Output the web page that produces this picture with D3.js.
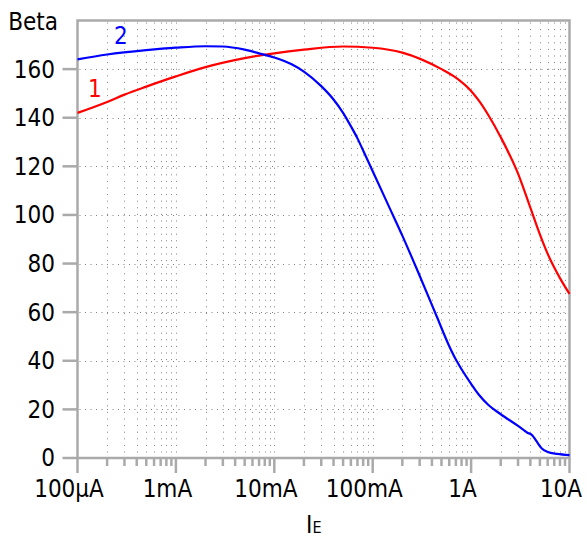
<!DOCTYPE html>
<html>
<head>
<meta charset="utf-8">
<script src="https://cdnjs.cloudflare.com/ajax/libs/d3/7.8.5/d3.min.js"></script>
<style>
    body { margin: 0; background: #fff; }
    svg text { font-family: "DejaVu Sans Condensed", "Liberation Sans", sans-serif; font-size: 24px; fill: #000; }
</style>
</head>
<body>
<div id="chart"></div>
<script>
// x axis labels (decades of emitter current)
var xTicks = [1e-4, 1e-3, 1e-2, 1e-1, 1, 10];
var xTickLabels = ["100µA", "1mA", "10mA", "100mA", "1A", "10A"];
var yTicks = [0, 20, 40, 60, 80, 100, 120, 140, 160];

// curve 1 (red): emitter current [A] and beta
var ie1 = [1e-4, 2e-4, 3e-4, 5e-4, 1e-3, 2e-3, 5e-3, 1e-2, 2e-2, 5e-2, 0.1, 0.2, 0.5, 0.7, 1, 1.2, 1.5, 2, 3, 4, 5, 6, 8, 10];
var beta1 = [142, 146.5, 149.5, 152.8, 157, 160.8, 164.5, 166.5, 168, 169.3, 168.8, 166.8, 160, 156.5, 151, 147, 141, 132, 117, 103, 92, 84, 74, 67.5];

// curve 2 (blue)
var ie2 = [1e-4, 2e-4, 5e-4, 1e-3, 2e-3, 3e-3, 5e-3, 7e-3, 1e-2, 1.5e-2, 2e-2, 3e-2, 4e-2, 5e-2, 6e-2, 7e-2, 8e-2, 0.1, 0.15, 0.2, 0.3, 0.45, 0.6, 0.7, 0.8, 1, 1.2, 1.5, 2, 3, 3.7, 4.2, 4.6, 5.2, 6, 7.5, 10];
var beta2 = [164, 166, 167.8, 168.8, 169.4, 169.3, 168, 166.5, 164.8, 162, 159, 153, 147.5, 142, 136.5, 131.5, 126.5, 118, 102.5, 91.5, 75, 58, 46, 40.5, 36.5, 30.5, 26, 21.8, 18, 13.2, 10.5, 9.3, 7, 4, 2.5, 1.7, 1.2];

var width = 587, height = 540;
var plotLeft = 77.5, plotRight = 569.5, plotTop = 20.5, plotBottom = 458;

var svg = d3.select("#chart")
    .append("svg")
    .attr("width", width)
    .attr("height", height);

var x = d3.scaleLog().domain([1e-4, 10]).range([plotLeft, plotRight]);
var y = d3.scaleLinear().domain([0, 180]).range([plotBottom, plotTop]);

// minor positions 2..9 inside every decade
var minor = [];
xTicks.slice(0, -1).forEach(function(d) {
    for (var k = 2; k <= 9; k++) minor.push(d * k);
});

// dotted grid
svg.append("g")
    .selectAll("line")
    .data(minor.concat(xTicks.slice(1, -1)))
    .enter()
    .append("line")
    .attr("x1", function(d) { return Math.round(x(d)) + 0.5; })
    .attr("x2", function(d) { return Math.round(x(d)) + 0.5; })
    .attr("y1", plotTop + 2)
    .attr("y2", plotBottom - 1)
    .style("stroke", "#808080")
    .style("stroke-width", 1)
    .style("stroke-dasharray", "1,5.6");

svg.append("g")
    .selectAll("line")
    .data(yTicks.slice(1))
    .enter()
    .append("line")
    .attr("x1", plotLeft + 2)
    .attr("x2", plotRight - 1)
    .attr("y1", function(d) { return Math.round(y(d)) + 0.5; })
    .attr("y2", function(d) { return Math.round(y(d)) + 0.5; })
    .style("stroke", "#808080")
    .style("stroke-width", 1)
    .style("stroke-dasharray", "1,4.5");

// frame
svg.append("rect")
    .attr("x", plotLeft)
    .attr("y", plotTop)
    .attr("width", plotRight - plotLeft)
    .attr("height", plotBottom - plotTop)
    .style("fill", "none")
    .style("stroke", "#aaaaaa")
    .style("stroke-width", 2.5);

// y axis ticks + labels
var yAxis = svg.append("g");
yAxis.selectAll("line")
    .data(yTicks)
    .enter()
    .append("line")
    .attr("x1", plotLeft - 15)
    .attr("x2", plotLeft)
    .attr("y1", function(d) { return y(d); })
    .attr("y2", function(d) { return y(d); })
    .style("stroke", "#aaaaaa")
    .style("stroke-width", 2.5);
yAxis.selectAll("text")
    .data(yTicks)
    .enter()
    .append("text")
    .attr("x", 55)
    .attr("y", function(d) { return y(d); })
    .attr("dy", "0.35em")
    .attr("text-anchor", "end")
    .text(function(d) { return d; });

svg.append("text")
    .attr("x", 58)
    .attr("y", y(180) + 1)
    .attr("dy", "0.35em")
    .attr("text-anchor", "end")
    .text("Beta");

// x axis ticks: long at decades, short at minors
var xAxis = svg.append("g");
xAxis.selectAll("line.major")
    .data(xTicks)
    .enter()
    .append("line")
    .attr("class", "major")
    .attr("x1", function(d) { return x(d); })
    .attr("x2", function(d) { return x(d); })
    .attr("y1", plotBottom)
    .attr("y2", plotBottom + 15)
    .style("stroke", "#aaaaaa")
    .style("stroke-width", 2.5);
xAxis.selectAll("line.minor")
    .data(minor)
    .enter()
    .append("line")
    .attr("class", "minor")
    .attr("x1", function(d) { return x(d); })
    .attr("x2", function(d) { return x(d); })
    .attr("y1", plotBottom)
    .attr("y2", plotBottom + 8)
    .style("stroke", "#aaaaaa")
    .style("stroke-width", 2.5);
xAxis.selectAll("text")
    .data(xTicks)
    .enter()
    .append("text")
    .attr("x", function(d) { return x(d) - 8.5; })
    .attr("y", 497)
    .attr("text-anchor", "middle")
    .text(function(d, i) { return xTickLabels[i]; });

// axis title I_E
var title = svg.append("text")
    .attr("x", 306)
    .attr("y", 533);
title.append("tspan").text("I");
title.append("tspan")
    .style("font-size", "16px")
    .text("E");

// curves
var line = d3.line()
    .x(function(d) { return x(d[0]); })
    .y(function(d) { return y(d[1]); })
    .curve(d3.curveMonotoneX);

svg.append("path")
    .datum(d3.zip(ie1, beta1))
    .attr("d", line)
    .style("stroke", "#ff0000")
    .style("stroke-width", 2.2)
    .style("fill", "none");

svg.append("path")
    .datum(d3.zip(ie2, beta2))
    .attr("d", line)
    .style("stroke", "#0000ff")
    .style("stroke-width", 2.2)
    .style("fill", "none");

// curve labels
svg.append("text")
    .attr("x", 88)
    .attr("y", 97)
    .style("fill", "#ff0000")
    .text("1");
svg.append("text")
    .attr("x", 114)
    .attr("y", 44)
    .style("fill", "#0000ff")
    .text("2");
</script>
</body>
</html>
